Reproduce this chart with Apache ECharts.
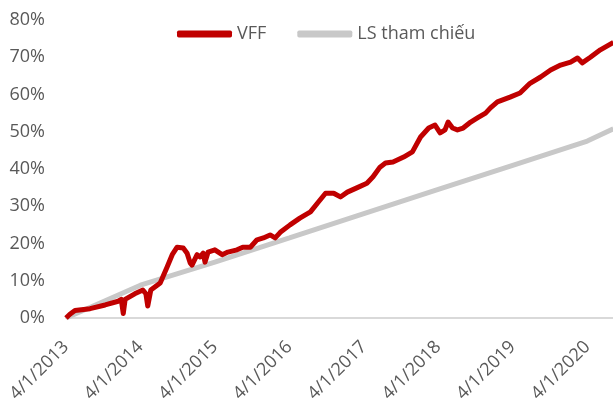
<!DOCTYPE html>
<html>
<head>
<meta charset="utf-8">
<script src="https://cdn.jsdelivr.net/npm/echarts@6/dist/echarts.min.js"></script>
<style>
  html, body { margin: 0; padding: 0; background: #fff; }
  #chart { width: 613px; height: 407px; }
</style>
</head>
<body>
<div id="chart"></div>
<script>
// tick labels on the date axis
var tickLabels = ['4/1/2013', '4/1/2014', '4/1/2015', '4/1/2016', '4/1/2017', '4/1/2018', '4/1/2019', '4/1/2020'];

// VFF cumulative return (%)
var vffDates = [
    '2013-04-01', '2013-04-20', '2013-05-15', '2013-07-28', '2013-10-10', '2013-12-13', '2013-12-28',
    '2014-01-07', '2014-01-16', '2014-03-04', '2014-04-13', '2014-04-28', '2014-05-07', '2014-05-22',
    '2014-07-07', '2014-08-10', '2014-09-04', '2014-09-28', '2014-10-28', '2014-11-16', '2014-12-01',
    '2014-12-10', '2015-01-04', '2015-01-19', '2015-02-03', '2015-02-12', '2015-02-27', '2015-04-01',
    '2015-05-07', '2015-06-04', '2015-07-19', '2015-08-16', '2015-09-22', '2015-10-25', '2015-11-25',
    '2015-12-28', '2016-01-22', '2016-02-16', '2016-04-04', '2016-05-22', '2016-07-13', '2016-08-19',
    '2016-09-25', '2016-11-04', '2016-12-07', '2017-01-10', '2017-02-28', '2017-04-16', '2017-05-16',
    '2017-06-19', '2017-07-16', '2017-08-22', '2017-10-13', '2017-11-25', '2018-01-04', '2018-02-13',
    '2018-03-16', '2018-04-10', '2018-05-04', '2018-05-19', '2018-06-10', '2018-07-04', '2018-08-01',
    '2018-09-07', '2018-10-10', '2018-11-19', '2018-12-13', '2019-01-16', '2019-03-19', '2019-05-07',
    '2019-06-25', '2019-08-16', '2019-10-04', '2019-11-22', '2020-01-10', '2020-02-13', '2020-03-07',
    '2020-04-16', '2020-06-04', '2020-08-07'
];
var vffValues = [
    0, 1, 2, 2.5, 3.5, 4.5, 5,
    1.2, 5, 6.5, 7.5, 6.5, 3.2, 7.5,
    9.4, 13.7, 17, 19, 18.8, 17.4, 14.8,
    14.2, 17, 16.4, 17.4, 15, 17.7, 18.3,
    17, 17.7, 18.3, 19, 19, 21, 21.5,
    22.3, 21.5, 23, 25, 26.8, 28.5, 31,
    33.5, 33.5, 32.5, 33.8, 35, 36.2, 37.9,
    40.5, 41.6, 41.9, 43.2, 44.6, 48.6, 51,
    51.8, 49.7, 50.5, 52.6, 51, 50.5, 51,
    52.6, 53.7, 55, 56.4, 58, 59.3, 60.4,
    63, 64.7, 66.6, 67.9, 68.7, 69.8, 68.5,
    70, 72, 74
];

// reference rate (%)
var refDates = ['2013-04-01', '2014-04-01', '2015-04-01', '2016-04-01', '2017-04-01', '2018-04-01', '2019-04-01', '2020-04-01', '2020-08-07'];
var refValues = [0, 8.8, 15, 21.5, 28, 34.5, 41, 47.5, 50.8];

function parseLabel(s) {
    var p = s.split('/');
    return new Date(+p[2], +p[0] - 1, +p[1]).getTime();
}

function parseDate(s) {
    var p = s.split('-');
    return new Date(+p[0], +p[1] - 1, +p[2]).getTime();
}

function pairs(dates, values) {
    return dates.map(function (d, i) { return [parseDate(d), values[i]]; });
}

var chart = echarts.init(document.getElementById('chart'));
var axisFont = { color: '#595959', fontSize: 18, fontFamily: 'Open Sans' };

chart.setOption({
    animation: false,
    grid: { left: 66, right: 0, top: 20, bottom: 89 },
    legend: {
        left: 172,
        top: 20,
        icon: 'roundRect',
        itemWidth: 55,
        itemHeight: 7,
        itemGap: 31,
        textStyle: { color: '#595959', fontSize: 18, fontFamily: 'Open Sans' },
        data: ['VFF', 'LS tham chiếu']
    },
    xAxis: {
        type: 'value',
        min: parseLabel(tickLabels[0]),
        max: parseDate('2020-08-05'),
        axisLine: { lineStyle: { color: '#d9d9d9', width: 2 } },
        axisTick: { show: false },
        splitLine: { show: false },
        axisLabel: Object.assign({
            rotate: 45,
            margin: 26,
            customValues: tickLabels.map(parseLabel),
            formatter: function (v) {
                var d = new Date(v);
                return (d.getMonth() + 1) + '/' + d.getDate() + '/' + d.getFullYear();
            }
        }, axisFont)
    },
    yAxis: {
        type: 'value',
        min: 0,
        max: 80,
        interval: 10,
        axisLine: { show: false },
        axisTick: { show: false },
        splitLine: { show: false },
        axisLabel: Object.assign({ margin: 21, formatter: '{value}%' }, axisFont)
    },
    series: [
        {
            name: 'LS tham chiếu',
            type: 'line',
            symbol: 'none',
            z: 2,
            itemStyle: { color: '#c8c8c8' },
            lineStyle: { color: '#c8c8c8', width: 5 },
            data: pairs(refDates, refValues)
        },
        {
            name: 'VFF',
            type: 'line',
            symbol: 'none',
            z: 3,
            itemStyle: { color: '#c00000' },
            lineStyle: { color: '#c00000', width: 5, join: 'round' },
            data: pairs(vffDates, vffValues)
        }
    ]
});
</script>
</body>
</html>
